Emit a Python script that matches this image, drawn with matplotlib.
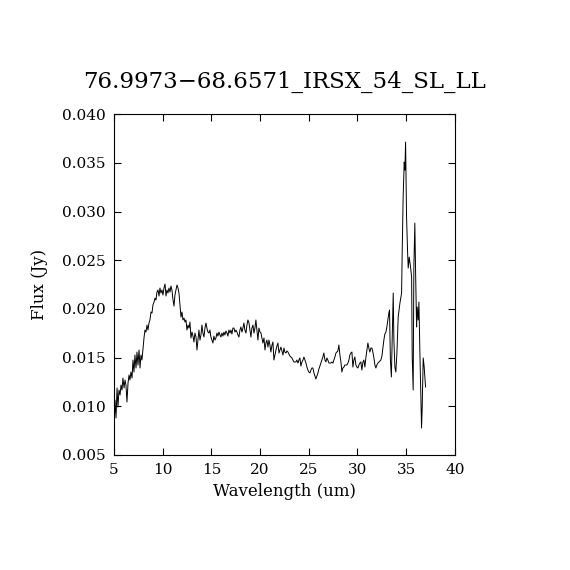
import matplotlib
matplotlib.use('Agg')
import matplotlib.pyplot as plt
import numpy as np

# spectrum (wavelength in um, flux in Jy)
wavelength = [
    5.00, 5.10, 5.21, 5.31, 5.41, 5.51, 5.62, 5.72, 5.82, 5.92,
    6.03, 6.13, 6.23, 6.33, 6.44, 6.54, 6.64, 6.74, 6.85, 6.95,
    7.05, 7.15, 7.26, 7.36, 7.46, 7.57, 7.67, 7.77, 7.87, 7.98,
    8.08, 8.18, 8.28, 8.39, 8.49, 8.59, 8.69, 8.80, 8.90, 9.00,
    9.11, 9.21, 9.31, 9.41, 9.52, 9.62, 9.72, 9.82, 9.93, 10.03,
    10.13, 10.24, 10.34, 10.44, 10.54, 10.65, 10.75, 10.85, 10.95, 11.06,
    11.16, 11.26, 11.36, 11.47, 11.57, 11.67, 11.78, 11.88, 11.98, 12.08,
    12.19, 12.29, 12.39, 12.49, 12.60, 12.70, 12.80, 12.90, 13.01, 13.11,
    13.21, 13.31, 13.42, 13.52, 13.62, 13.72, 13.83, 13.93, 14.03, 14.13,
    14.24, 14.34, 14.44, 14.54, 14.65, 14.75, 14.85, 14.95, 15.06, 15.16,
    15.26, 15.37, 15.47, 15.57, 15.67, 15.78, 15.88, 15.98, 16.08, 16.19,
    16.29, 16.39, 16.50, 16.60, 16.70, 16.80, 16.91, 17.01, 17.11, 17.21,
    17.32, 17.42, 17.52, 17.62, 17.73, 17.83, 17.93, 18.03, 18.14, 18.24,
    18.34, 18.44, 18.55, 18.65, 18.75, 18.86, 18.96, 19.06, 19.16, 19.27,
    19.37, 19.47, 19.57, 19.68, 19.78, 19.88, 19.99, 20.09, 20.19, 20.29,
    20.40, 20.50, 20.60, 20.70, 20.81, 20.91, 21.01, 21.11, 21.22, 21.32,
    21.42, 21.52, 21.63, 21.73, 21.83, 21.94, 22.04, 22.14, 22.24, 22.35,
    22.45, 22.55, 22.65, 22.76, 22.86, 22.96, 23.06, 23.17, 23.27, 23.37,
    23.48, 23.58, 23.68, 23.78, 23.89, 23.99, 24.09, 24.19, 24.30, 24.40,
    24.50, 24.60, 24.71, 24.81, 24.91, 25.01, 25.12, 25.22, 25.32, 25.42,
    25.53, 25.63, 25.73, 25.83, 25.94, 26.04, 26.14, 26.25, 26.35, 26.45,
    26.55, 26.66, 26.76, 26.86, 26.96, 27.07, 27.17, 27.27, 27.37, 27.48,
    27.58, 27.68, 27.79, 27.89, 27.99, 28.09, 28.20, 28.30, 28.40, 28.50,
    28.61, 28.71, 28.81, 28.91, 29.02, 29.12, 29.22, 29.32, 29.43, 29.53,
    29.63, 29.73, 29.84, 29.94, 30.04, 30.15, 30.25, 30.35, 30.45, 30.56,
    30.66, 30.76, 30.86, 30.97, 31.07, 31.17, 31.27, 31.38, 31.48, 31.58,
    31.69, 31.79, 31.89, 31.99, 32.10, 32.20, 32.30, 32.40, 32.51, 32.61,
    32.71, 32.81, 32.92, 33.02, 33.12, 33.22, 33.29,
    33.38, 33.48, 33.61, 33.67, 33.74, 33.84, 33.94, 34.05, 34.18, 34.36,
    34.53, 34.59, 34.69, 34.80, 34.87, 34.94, 35.04, 35.15, 35.21, 35.31,
    35.45, 35.56, 35.62, 35.72, 35.79, 35.89, 35.97, 36.07, 36.13, 36.23,
    36.31, 36.41, 36.51, 36.58, 36.64, 36.75, 36.85, 36.92, 36.99,
]

flux = [
    0.00726, 0.01064, 0.00880, 0.01188, 0.00993, 0.01167, 0.01116, 0.01218, 0.01167, 0.01290,
    0.01188, 0.01270, 0.01218, 0.01044, 0.01239, 0.01321, 0.01270, 0.01352, 0.01290, 0.01475,
    0.01352, 0.01526, 0.01393, 0.01557, 0.01424, 0.01578, 0.01393, 0.01526, 0.01475, 0.01598,
    0.01701, 0.01783, 0.01762, 0.01834, 0.01783, 0.01855, 0.01886, 0.01968, 0.01957, 0.02040,
    0.02070, 0.02111, 0.02091, 0.02173, 0.02194, 0.02132, 0.02214, 0.02163, 0.02194, 0.02142,
    0.02214, 0.02255, 0.02132, 0.02194, 0.02163, 0.02214, 0.02173, 0.02235, 0.02194, 0.02091,
    0.02029, 0.02142, 0.02194, 0.02245, 0.02214, 0.02163, 0.02040, 0.01916, 0.01968, 0.01886,
    0.01906, 0.01865, 0.01886, 0.01783, 0.01834, 0.01803, 0.01865, 0.01701, 0.01762, 0.01721,
    0.01660, 0.01752, 0.01711, 0.01578, 0.01680, 0.01783, 0.01680, 0.01732, 0.01834, 0.01752,
    0.01711, 0.01803, 0.01855, 0.01803, 0.01762, 0.01752, 0.01783, 0.01711, 0.01680, 0.01650,
    0.01721, 0.01680, 0.01701, 0.01752, 0.01721, 0.01762, 0.01732, 0.01711, 0.01752, 0.01721,
    0.01762, 0.01732, 0.01773, 0.01752, 0.01721, 0.01783, 0.01752, 0.01783, 0.01742, 0.01803,
    0.01803, 0.01762, 0.01783, 0.01762, 0.01732, 0.01711, 0.01783, 0.01814, 0.01762, 0.01803,
    0.01855, 0.01783, 0.01752, 0.01834, 0.01886, 0.01855, 0.01783, 0.01711, 0.01803, 0.01834,
    0.01752, 0.01803, 0.01886, 0.01783, 0.01680, 0.01803, 0.01762, 0.01752, 0.01701, 0.01650,
    0.01701, 0.01578, 0.01650, 0.01680, 0.01608, 0.01680, 0.01629, 0.01557, 0.01629, 0.01660,
    0.01475, 0.01526, 0.01578, 0.01619, 0.01650, 0.01547, 0.01578, 0.01608, 0.01568, 0.01526,
    0.01598, 0.01557, 0.01547, 0.01568, 0.01557, 0.01537, 0.01516, 0.01506, 0.01496, 0.01475,
    0.01455, 0.01455, 0.01455, 0.01475, 0.01444, 0.01475, 0.01496, 0.01413, 0.01455, 0.01475,
    0.01506, 0.01475, 0.01444, 0.01403, 0.01372, 0.01352, 0.01342, 0.01372, 0.01393, 0.01393,
    0.01342, 0.01311, 0.01280, 0.01311, 0.01342, 0.01383, 0.01413, 0.01444, 0.01475, 0.01506,
    0.01547, 0.01475, 0.01455, 0.01496, 0.01475, 0.01444, 0.01444, 0.01444, 0.01455, 0.01444,
    0.01475, 0.01506, 0.01547, 0.01557, 0.01568, 0.01629, 0.01526, 0.01455, 0.01352, 0.01393,
    0.01403, 0.01424, 0.01424, 0.01424, 0.01444, 0.01475, 0.01526, 0.01547, 0.01557, 0.01403,
    0.01475, 0.01506, 0.01424, 0.01403, 0.01393, 0.01424, 0.01444, 0.01455, 0.01372, 0.01455,
    0.01475, 0.01403, 0.01496, 0.01578, 0.01650, 0.01598, 0.01557, 0.01598, 0.01598, 0.01557,
    0.01496, 0.01424, 0.01393, 0.01424, 0.01444, 0.01455, 0.01465, 0.01475, 0.01516, 0.01598,
    0.01680, 0.01742, 0.01762, 0.01814, 0.01886, 0.01957, 0.01988,
    0.01475, 0.01301, 0.01886, 0.02163, 0.01680, 0.01403, 0.01352, 0.01547, 0.01916, 0.02060,
    0.02163, 0.02573, 0.03148, 0.03507, 0.03425, 0.03713, 0.02943, 0.02573, 0.02419, 0.02532,
    0.02430, 0.02327, 0.01506, 0.01167, 0.02430, 0.02881, 0.02368, 0.01814, 0.02019, 0.01886,
    0.02070, 0.01547, 0.01095, 0.00777, 0.00962, 0.01496, 0.01403, 0.01301, 0.01198,
]

title = '76.9973\u221268.6571_IRSX_54_SL_LL'
xticks = [5, 10, 15, 20, 25, 30, 35, 40]
yticks = [0.005, 0.010, 0.015, 0.020, 0.025, 0.030, 0.035, 0.040]

plt.rcParams['font.family'] = ['DejaVu Serif']

fig = plt.figure(figsize=(5.7, 5.7), dpi=100)
ax = fig.add_axes([0.2, 0.2018, 0.598, 0.598])

ax.plot(wavelength, flux, color='black', linewidth=0.7)

ax.set_xlim(5, 40)
ax.set_ylim(0.005, 0.040)
ax.set_xticks(xticks)
ax.set_yticks(yticks)
ax.set_xticklabels([str(t) for t in xticks])
ax.set_yticklabels(['{:.3f}'.format(t) for t in yticks])

# ticks inside on all four sides, like pgplot
ax.tick_params(direction='in', length=5, width=0.8, top=True, right=True,
               labelsize=11, pad=6)
for s in ax.spines.values():
    s.set_linewidth(0.8)

ax.set_xlabel('Wavelength (um)', fontsize=12, labelpad=4)
ax.set_ylabel('Flux (Jy)', fontsize=12, labelpad=10)
ax.set_title(title, fontsize=16.5, pad=19)

fig.savefig('out.png', dpi=100)
